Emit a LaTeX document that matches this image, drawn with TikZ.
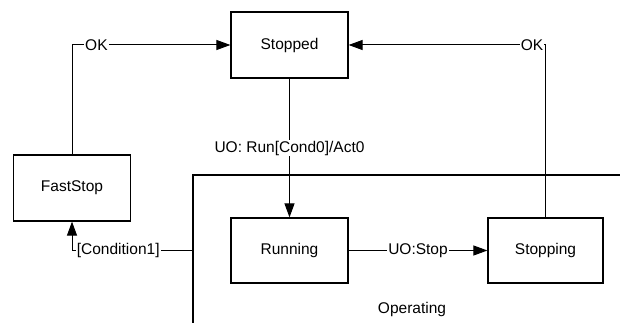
\documentclass[tikz,border=0pt]{standalone}
\usepackage{fontspec}
\setmainfont{Liberation Sans}
\usetikzlibrary{arrows.meta}

\begin{document}
\begin{tikzpicture}[x=1pt, y=-1pt,
    every node/.style={font=\fontsize{15.5}{18}\selectfont},
    state/.style={draw, line width=1.2pt, minimum width=117pt, minimum height=66pt, inner sep=0pt},
    trans/.style={line width=1pt, -{Triangle[length=14pt,width=10pt]}},
    lbl/.style={fill=white, inner sep=1pt}]
  \useasboundingbox (0,0) rectangle (620,323);
  % superstate: only its top left corner shows
  \node[state, minimum width=467pt, minimum height=185pt] (operating) at (426.5,267.5) {};
  \node (operatinglbl) at (412,309) {Operating};
  \node[state] (stopped) at (289.5,45) {Stopped};
  \node[state] (faststop) at (72,188) {FastStop};
  \node[state, minimum height=65pt] (running) at (289.5,250.5) {Running};
  \node[state, minimum width=115pt, minimum height=65pt] (stopping) at (545.5,250.5) {Stopping};
  % transitions
  \draw[trans] (stopped) -- node[lbl] {UO: Run[Cond0]/Act0} (running);
  \draw[trans] (running) -- node[lbl] {UO:Stop} (stopping);
  \draw[trans] (stopping.north) |- node[lbl, pos=0.534] {OK} (stopped.east);
  \draw[trans] (faststop.north) |- node[lbl, pos=0.577] {OK} (stopped.west);
  \draw[trans] (operating.west |- running.west) -| node[lbl, pos=0.308] {[Condition1]} (faststop.south);
\end{tikzpicture}
\end{document}
